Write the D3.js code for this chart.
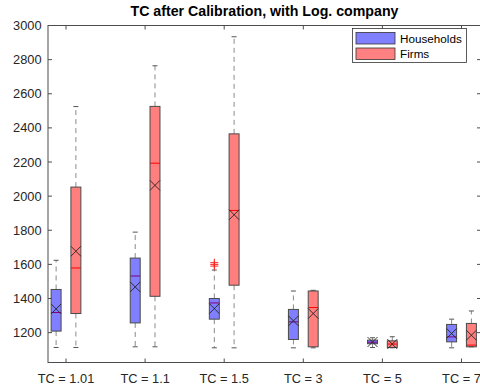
<!DOCTYPE html>
<html><head><meta charset="utf-8">
<script src="https://cdn.jsdelivr.net/npm/d3@7"></script>
<style>body{margin:0;background:#fff}svg{display:block}text{font-family:"Liberation Sans",Arial,sans-serif}</style>
</head><body><svg id="c" width="480" height="388"></svg>
<script>
const categories = ["TC = 1.01","TC = 1.1","TC = 1.5","TC = 3","TC = 5","TC = 7"];
const yTicks = [1200,1400,1600,1800,2000,2200,2400,2600,2800,3000];
const seriesNames = ["Households","Firms"];
// Households stats
const hhLow  = [1113,1117,1111,1111,1113,1111];
const hhQ1   = [1209,1257,1279,1160,1135,1146];
const hhMed  = [1318,1532,1374,1263,1144,1175];
const hhQ3   = [1453,1637,1400,1336,1156,1248];
const hhHigh = [1624,1789,1567,1444,1170,1279];
const hhMean = [1339,1468,1341,1269,1145,1195];
// Firms stats
const fLow  = [1113,1117,1111,1111,1111,1117];
const fQ1   = [1312,1413,1478,1117,1113,1117];
const fMed  = [1579,2193,1916,1347,1133,1127];
const fQ3   = [2053,2526,2365,1444,1152,1254];
const fHigh = [2525,2764,2934,1448,1176,1327];
const fMean = [1677,2063,1891,1312,1133,1185];
// Outliers: [category index, series index, value]
const outliers = [[2,0,1590],[2,0,1600],[2,0,1610]];

const L=48, R=481, T=25.5, B=362.5;
const svg = d3.select("#c");
const x = d3.scaleLinear().domain([1-18/79.1, 1+(R-66)/79.1]).range([L,R]);
const y = d3.scaleLinear().domain([1025,3000]).range([B,T]);
const off = 0.125, bw = 0.126;
const fills = ["#8080ff","#ff8080"];

const stats = [
  categories.map((c,i)=>({i,lo:hhLow[i],q1:hhQ1[i],med:hhMed[i],q3:hhQ3[i],hi:hhHigh[i],mean:hhMean[i]})),
  categories.map((c,i)=>({i,lo:fLow[i],q1:fQ1[i],med:fMed[i],q3:fQ3[i],hi:fHigh[i],mean:fMean[i]}))
];

const plot = svg.append("g");
stats.forEach((arr,s)=>{
  const g = plot.append("g");
  arr.forEach(d=>{
    const cx = x(d.i+1 + (s===0?-off:off));
    const hw = (x(bw)-x(0))/2;
    g.append("line").attr("x1",cx).attr("x2",cx).attr("y1",y(d.q3)).attr("y2",y(d.hi))
      .attr("stroke","#8a8a8a").attr("stroke-dasharray","5,4").attr("stroke-width",1);
    g.append("line").attr("x1",cx).attr("x2",cx).attr("y1",y(d.q1)).attr("y2",y(d.lo))
      .attr("stroke","#8a8a8a").attr("stroke-dasharray","5,4").attr("stroke-width",1);
    [d.hi,d.lo].forEach(v=>g.append("line").attr("x1",cx-2.5).attr("x2",cx+2.5)
      .attr("y1",y(v)).attr("y2",y(v)).attr("stroke","#555").attr("stroke-width",1));
    g.append("line").attr("x1",cx-hw).attr("x2",cx+hw).attr("y1",y(d.med)).attr("y2",y(d.med))
      .attr("stroke","#ff0000").attr("stroke-width",1);
    g.append("rect").attr("x",cx-hw).attr("width",2*hw).attr("y",y(d.q3)).attr("height",y(d.q1)-y(d.q3))
      .attr("fill",s===0?"#0000ff":"#ff0000").attr("fill-opacity",0.5)
      .attr("stroke","#4a4a4a").attr("stroke-width",1);
    const m=5, my=y(d.mean);
    g.append("path").attr("d",`M${cx-m},${my-m}L${cx+m},${my+m}M${cx-m},${my+m}L${cx+m},${my-m}`)
      .attr("stroke","#222").attr("stroke-width",0.9).attr("fill","none");
  });
});
outliers.forEach(([ci,si,v])=>{
  const cx = x(ci+1 + (si===0?-off:off)), cy=y(v);
  plot.append("path").attr("d",`M${cx-4},${cy}L${cx+4},${cy}M${cx},${cy-4}L${cx},${cy+4}`)
    .attr("stroke","#ff2020").attr("stroke-width",1).attr("fill","none");
});

const ax = svg.append("g").attr("stroke","#4d4d4d").attr("stroke-width",1).attr("fill","none");
ax.append("rect").attr("x",L).attr("y",T).attr("width",R-L).attr("height",B-T);
const xt = d3.range(1,categories.length+1);
xt.forEach(t=>{
  ax.append("line").attr("x1",x(t)).attr("x2",x(t)).attr("y1",B).attr("y2",B-4);
  ax.append("line").attr("x1",x(t)).attr("x2",x(t)).attr("y1",T).attr("y2",T+4);
});
yTicks.forEach(t=>{
  ax.append("line").attr("x1",L).attr("x2",L+4).attr("y1",y(t)).attr("y2",y(t));
  ax.append("line").attr("x1",R).attr("x2",R-4).attr("y1",y(t)).attr("y2",y(t));
});
svg.append("g").selectAll("text").data(yTicks).join("text")
  .attr("x",L-6.5).attr("y",t=>y(t)).attr("dy","0.36em").attr("text-anchor","end")
  .attr("font-size",12.8).attr("fill","#262626").text(t=>t);
svg.append("g").selectAll("text").data(categories).join("text")
  .attr("x",(c,i)=>x(i+1)).attr("y",383).attr("text-anchor","middle")
  .attr("font-size",12.8).attr("fill","#262626").text(c=>c);
svg.append("text").attr("x",(L+R)/2).attr("y",15.5).attr("text-anchor","middle")
  .attr("font-size",14.2).attr("font-weight","bold").attr("fill","#000")
  .text("TC after Calibration, with Log. company");
const lg = svg.append("g");
lg.append("rect").attr("x",352.5).attr("y",28.5).attr("width",114).attr("height",34)
  .attr("fill","#fff").attr("stroke","#333").attr("stroke-width",0.8);
seriesNames.forEach((n,i)=>{
  lg.append("rect").attr("x",356).attr("y",32.5+i*15.5).attr("width",39).attr("height",11.5)
    .attr("fill",fills[i]).attr("stroke","#333").attr("stroke-width",0.8);
  lg.append("text").attr("x",400).attr("y",42.5+i*15.5).attr("font-size",11.7).attr("fill","#000").text(n);
});
</script></body></html>
